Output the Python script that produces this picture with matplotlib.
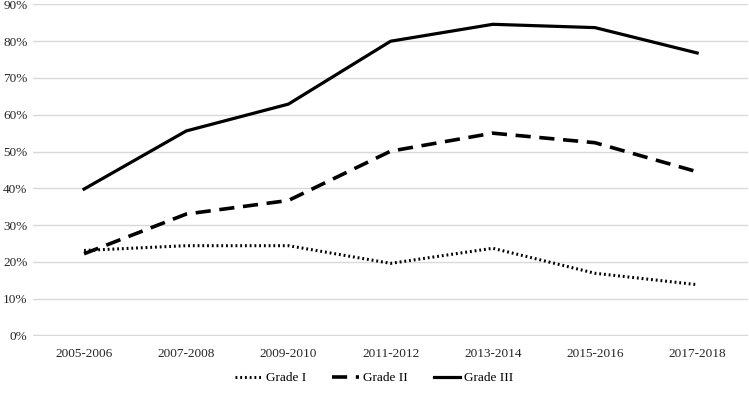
import matplotlib.pyplot as plt
from matplotlib.ticker import PercentFormatter

plt.rcParams['font.family'] = ['Liberation Serif', 'DejaVu Serif']

periods = ['2005-2006', '2007-2008', '2009-2010', '2011-2012',
           '2013-2014', '2015-2016', '2017-2018']
grade_1 = [23.1, 24.4, 24.4, 19.6, 23.7, 16.9, 13.8]
grade_2 = [22.2, 33.0, 36.7, 50.1, 55.0, 52.4, 44.5]
grade_3 = [39.8, 55.6, 62.9, 80.0, 84.6, 83.7, 76.8]

fig = plt.figure(figsize=(7.49, 4.08), dpi=100)
ax = fig.add_axes([0.044, 0.177, 0.955, 0.813])

x = range(len(periods))
ax.plot(x, grade_1, color='black', lw=2.2, linestyle=(0, (0.6, 0.95)),
        label='Grade I')
ax.plot(x, grade_2, color='black', lw=2.6, linestyle=(0, (4.2, 2.4)),
        label='Grade II')
ax.plot(x, grade_3, color='black', lw=2.3, label='Grade III')

ax.set_xlim(-0.5, len(periods) - 0.5)
ax.set_ylim(-0.1, 90.1)
ax.set_yticks(range(0, 91, 10))
ax.yaxis.set_major_formatter(PercentFormatter(decimals=0))
ax.set_xticks(list(x))
ax.set_xticklabels(periods)
ax.tick_params(length=0, labelsize=9.5, colors='#262626')
ax.tick_params(axis='x', pad=9)
ax.tick_params(axis='y', pad=4)
ax.grid(axis='y', color='#d9d9d9', lw=1)
ax.set_axisbelow(True)
for s in ax.spines.values():
    s.set_visible(False)

fig.legend(loc='center', bbox_to_anchor=(0.5, 0.073), ncol=3, frameon=False,
           fontsize=9.5, handlelength=2.0, columnspacing=2.0, handletextpad=0.3)

plt.savefig('out.png', dpi=100)
